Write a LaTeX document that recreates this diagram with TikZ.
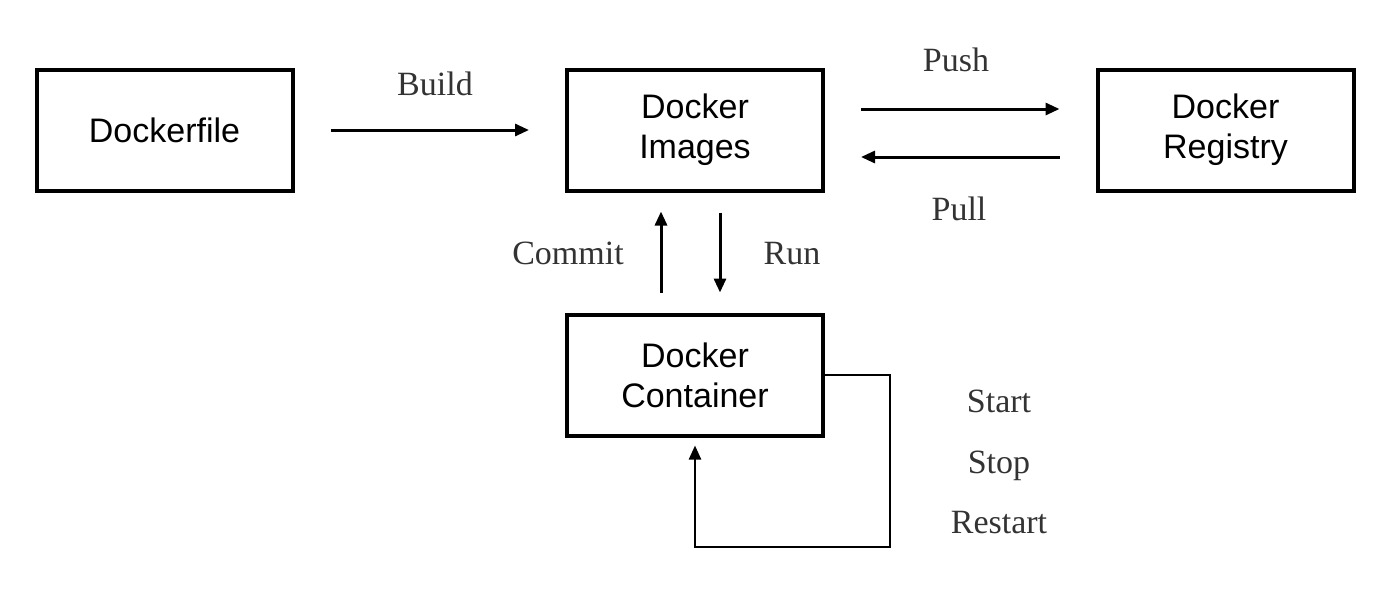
\documentclass[tikz,border=0pt]{standalone}
\usepackage{fontspec}
\setmainfont{Liberation Serif}
\setsansfont{Liberation Sans}
\usetikzlibrary{arrows.meta}
\definecolor{labelgray}{HTML}{333333}
\begin{document}
\begin{tikzpicture}[x=0.5pt,y=-0.5pt]
      \tikzstyle{dockbox}=[draw, line width=2pt, minimum width=128pt, minimum height=60.5pt,
        align=center, font=\sffamily\fontsize{17}{20}\selectfont, inner sep=0pt]
      \tikzstyle{steplabel}=[anchor=base, text=labelgray, font=\fontsize{17}{20}\selectfont, inner sep=0pt]
      \tikzstyle{arr}=[line width=1.5pt, -{Triangle[length=7pt,width=6pt]}]
      \tikzstyle{looparr}=[line width=1.2pt, -{Triangle[length=7pt,width=6pt]}]
      \useasboundingbox (0,0) rectangle (1394,596);
      % boxes
      \node[dockbox] (file) at (164.5,130) {Dockerfile};
      \node[dockbox] (img) at (695,130) {Docker\\Images};
      \node[dockbox] (reg) at (1225.5,130) {Docker\\Registry};
      \node[dockbox] (cont) at (695,375) {Docker\\Container};
      \coordinate (loopcorner) at (890,547);
      % arrows
      \draw[arr, shorten <=18pt, shorten >=18pt] (file) -- (img);
      \draw[arr, shorten <=18pt, shorten >=18pt] ([yshift=10.5pt]img.east) -- ([yshift=10.5pt]reg.west);
      \draw[arr, shorten <=18pt, shorten >=18pt] ([yshift=-13.5pt]reg.west) -- ([yshift=-13.5pt]img.east);
      \draw[arr, shorten <=10pt, shorten >=9.5pt] ([xshift=-17pt]cont.north) -- ([xshift=-17pt]img.south);
      \draw[arr, shorten <=10pt, shorten >=10pt] ([xshift=12.5pt]img.south) -- ([xshift=12.5pt]cont.north);
      \draw[looparr] (cont.east) -| (loopcorner) -| ([yshift=-4pt]cont.south);
      % labels
      \node[steplabel] (build) at (435,95) {Build};
      \node[steplabel] (push) at (956,71) {Push};
      \node[steplabel] (pull) at (959,220) {Pull};
      \node[steplabel] (commit) at (568,264) {Commit};
      \node[steplabel] (run) at (792,264) {Run};
      \node[steplabel] (start) at (999,412) {Start};
      \node[steplabel] (stop) at (999,473) {Stop};
      \node[steplabel] (restart) at (999,533) {Restart};
\end{tikzpicture}
\end{document}
